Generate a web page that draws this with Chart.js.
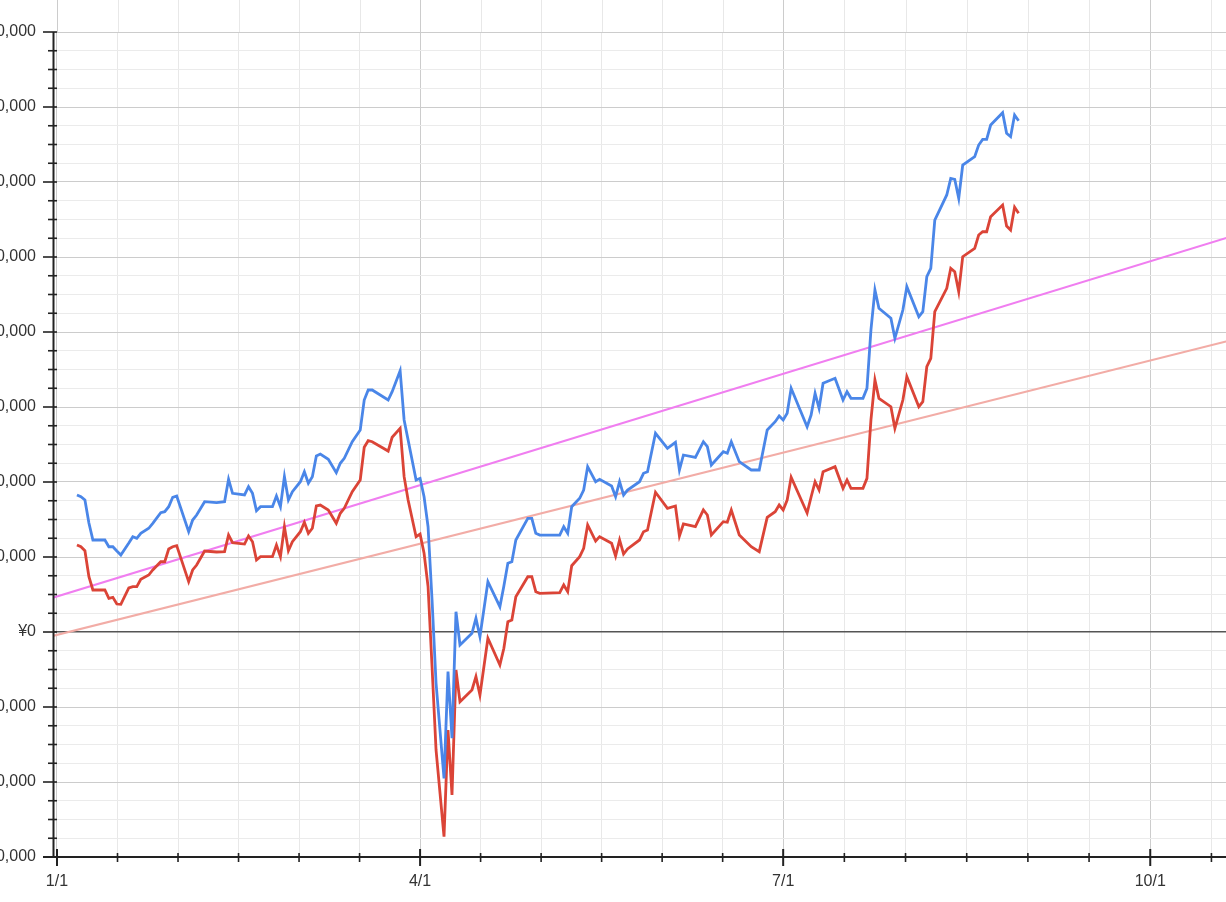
<!DOCTYPE html>
<html>
<head>
<meta charset="utf-8">
<script src="https://cdn.jsdelivr.net/npm/chart.js@4.4.1/dist/chart.umd.min.js"></script>
<style>
  html, body { margin: 0; padding: 0; background: #ffffff; overflow: hidden; width: 1226px; height: 902px; }
  #wrap { position: absolute; left: -66px; top: 0; width: 1316px; height: 902px; }
</style>
</head>
<body>
<div id="wrap"><canvas id="c"></canvas></div>
<script>
// ---- data (day offset from 1/1, yen values) ----
const days = [
  5,6,7,8,9,12,13,14,15,16,
  18,19,20,21,23,24,26,27,28,29,
  30,33,34,35,37,40,42,43,44,47,
  48,49,50,51,54,55,56,57,58,59,
  61,62,63,64,65,66,68,70,71,72,
  74,76,77,78,79,83,84,86,87,88,
  90,91,92,93,94,95,97,98,99,100,
  101,104,105,106,108,111,112,113,114,115,
  118,119,120,121,126,127,128,129,131,132,
  133,135,136,139,140,141,142,143,146,147,
  148,150,153,155,156,157,160,162,163,164,
  167,168,169,171,174,176,178,180,181,182,
  183,184,188,189,190,191,192,195,197,198,
  199,202,203,204,205,206,209,210,212,213,
  216,217,218,219,220,223,224,225,226,227,
  230,231,232,233,234,237,238,239,240,241
];
const blueValues = [
  182700,180400,176000,145300,122700,122700,113700,113700,108000,102700,
  118700,127100,124900,131600,138300,144900,159100,160400,167100,179600,
  181300,133700,149300,156000,173700,172400,173700,203600,184900,182700,
  193700,184900,161700,167100,167100,181300,167100,207100,176000,187100,
  200400,213700,198300,207100,234700,237300,230300,212400,224900,231600,
  253700,269300,309300,322700,322700,309300,320400,348400,282700,256000,
  202700,204900,180400,140400,42700,-68000,-195100,-52900,-141700,27100,
  -17300,-1700,18300,-6300,67100,33700,61300,91600,93700,122700,
  151600,151600,131600,129300,129300,140400,131600,167100,178300,189300,
  220400,200400,203600,194700,180400,200400,182700,189300,200400,211600,
  213700,264900,244900,252900,216000,236000,232900,253700,247100,222700,
  240400,238300,253700,227100,216000,216000,269300,280400,288000,282700,
  291600,324900,273700,289300,318300,298300,331600,338300,309300,320400,
  311600,311600,324900,402700,456000,431600,418300,391600,429300,460400,
  420400,427100,473700,484900,549300,582700,604900,603600,578300,622700,
  633700,649300,656900,656900,676000,692400,664900,660400,689300,681700
];
const redValues = [
  116000,113700,108400,73700,56000,56000,44900,46300,37300,36900,
  58700,60400,60400,70300,76000,82700,93700,93700,110700,113700,
  115100,67100,82700,89300,108000,106700,107100,129300,119100,117300,
  128000,120400,96000,100400,100400,116000,100400,140400,108400,120400,
  133700,146300,131600,138300,168000,169300,162700,144900,158300,164900,
  187100,202700,246300,255100,253700,241300,259600,271600,207100,176000,
  127100,130700,104900,60400,-46300,-157300,-272900,-130700,-217300,-50700,
  -92900,-77300,-59600,-84000,-8400,-44000,-21700,13700,16000,47100,
  73700,73700,53700,51600,52400,62700,53700,88400,100400,111600,
  142700,121300,127100,118300,101300,122700,104000,110700,122700,133700,
  136000,186300,164900,168000,128000,144000,140400,162700,156000,129300,
  147100,146300,162700,129300,113700,107100,152900,160400,169300,162700,
  176000,206300,158700,180000,200400,189300,213700,220400,191600,202700,
  191600,191600,204900,282700,336000,311600,300400,271600,309300,340400,
  300400,307100,353700,364900,427100,458300,484900,480400,453700,500400,
  511600,529300,533700,533700,553700,569300,541300,536000,566300,558300
];
// trend lines (start / end)
const trendDays = [-1, 299];
const blueTrend = [45700, 535000];
const redTrend = [-5300, 395400];

// axis definition
const quarterStarts = [0, 91, 182, 274, 366];
const quarterLabels = ['1/1', '4/1', '7/1', '10/1', '1/1'];
const yMin = -300000, yMax = 800000, yMajor = 100000, yMinor = 25000;
const xMin = -0.75, xMax = 299;

function yen(v) {
  if (v === 0) return '¥0';
  return (v < 0 ? '-' : '') + '¥' + Math.abs(v).toLocaleString('en-US');
}
function pts(xs, ys) { return xs.map((d, i) => ({ x: d, y: ys[i] })); }

const FONT = { family: '"Liberation Sans", Arial, sans-serif', size: 16 };
const INK = '#222222';

const axisDeco = {
  id: 'axisDeco',
  beforeDatasetsDraw(chart) {
    const { ctx, chartArea: a, scales: { x } } = chart;
    ctx.save();
    ctx.lineWidth = 1;
    x.ticks.forEach(t => {
      const px = Math.round(x.getPixelForValue(t.value)) + 0.5;
      ctx.strokeStyle = t.q ? '#cccccc' : '#e8e8e8';
      ctx.beginPath(); ctx.moveTo(px, 0); ctx.lineTo(px, a.top); ctx.stroke();
    });
    ctx.restore();
  },
  afterDraw(chart) {
    const { ctx, chartArea: a, scales: { x, y } } = chart;
    ctx.save();
    ctx.strokeStyle = INK;
    ctx.lineWidth = 2;
    // axis lines
    ctx.beginPath(); ctx.moveTo(a.left - 0.5, a.top); ctx.lineTo(a.left - 0.5, a.bottom); ctx.stroke();
    ctx.beginPath(); ctx.moveTo(a.left - 11, a.bottom); ctx.lineTo(a.right, a.bottom); ctx.stroke();
    // y tick marks
    ctx.lineWidth = 1.6;
    y.ticks.forEach(t => {
      const py = y.getPixelForValue(t.value);
      const major = t.value % yMajor === 0;
      ctx.beginPath();
      ctx.moveTo(major ? a.left - 11 : a.left - 6, py);
      ctx.lineTo(a.left + 3, py);
      ctx.stroke();
    });
    // x tick marks
    x.ticks.forEach(t => {
      const px = x.getPixelForValue(t.value);
      ctx.lineWidth = t.q ? 2 : 1.6;
      ctx.beginPath();
      ctx.moveTo(px, t.q ? a.bottom - 8 : a.bottom - 4);
      ctx.lineTo(px, t.q ? a.bottom + 9 : a.bottom + 5);
      ctx.stroke();
    });
    ctx.restore();
  }
};

new Chart(document.getElementById('c'), {
  type: 'line',
  data: {
    datasets: [
      { label: 'blue', data: pts(days, blueValues), borderColor: '#4a86e8', borderWidth: 2.8, pointRadius: 0, tension: 0, fill: false },
      { label: 'red', data: pts(days, redValues), borderColor: '#db4437', borderWidth: 2.8, pointRadius: 0, tension: 0, fill: false },
      { label: 'blue trend', data: pts(trendDays, blueTrend), borderColor: '#f07ef0', borderWidth: 2, pointRadius: 0, tension: 0, fill: false },
      { label: 'red trend', data: pts(trendDays, redTrend), borderColor: '#f2aca6', borderWidth: 2.2, pointRadius: 0, tension: 0, fill: false }
    ]
  },
  options: {
    responsive: true,
    maintainAspectRatio: false,
    animation: false,
    events: [],
    layout: { padding: { top: 32, left: 0, right: 0, bottom: 0 } },
    plugins: { legend: { display: false }, tooltip: { enabled: false } },
    scales: {
      x: {
        type: 'linear',
        min: xMin, max: xMax,
        afterFit(scale) { scale.height = 45; },
        afterBuildTicks(scale) {
          const t = [];
          for (let i = 0; i < quarterStarts.length - 1; i++) {
            const a = quarterStarts[i], b = quarterStarts[i + 1];
            for (let j = 0; j < 6; j++) {
              const v = a + j * (b - a) / 6;
              if (v >= scale.min && v <= scale.max) t.push({ value: v, q: j === 0, txt: j === 0 ? quarterLabels[i] : '' });
            }
          }
          scale.ticks = t;
        },
        ticks: {
          autoSkip: false, maxRotation: 0, minRotation: 0, padding: 15,
          color: '#333333', font: FONT,
          callback(value, index, ticks) { return ticks[index].txt; }
        },
        grid: {
          drawTicks: false,
          color: ctx => (ctx.tick && ctx.tick.q) ? '#cccccc' : '#e8e8e8',
          lineWidth: 1
        },
        border: { display: false }
      },
      y: {
        type: 'linear',
        min: yMin, max: yMax,
        afterFit(scale) { scale.width = 120; },
        afterBuildTicks(scale) {
          const t = [];
          for (let v = yMin; v <= yMax; v += yMinor) t.push({ value: v });
          scale.ticks = t;
        },
        ticks: {
          autoSkip: false, padding: 18, color: '#333333', font: FONT,
          callback(value) { return value % yMajor === 0 ? yen(value) : ''; }
        },
        grid: {
          drawTicks: false,
          color: ctx => {
            const v = ctx.tick ? ctx.tick.value : 1;
            if (v === 0) return '#555555';
            return v % yMajor === 0 ? '#cccccc' : '#ebebeb';
          },
          lineWidth: ctx => (ctx.tick && ctx.tick.value === 0) ? 1.4 : 1
        },
        border: { display: false }
      }
    }
  },
  plugins: [axisDeco]
});
</script>
</body>
</html>
